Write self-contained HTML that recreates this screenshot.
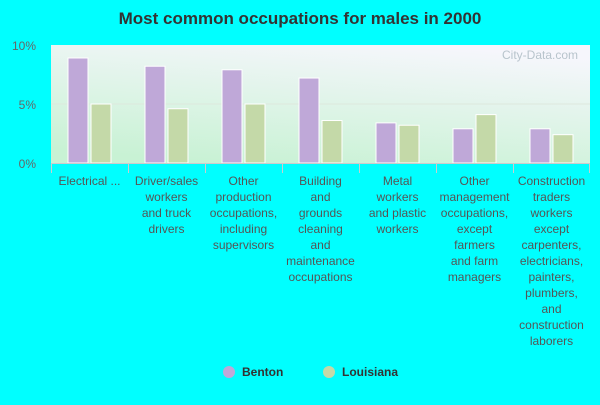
<!DOCTYPE html>
<html><head><meta charset="utf-8"><style>
body{margin:0;background:#00ffff;width:600px;height:400px;overflow:hidden;font-family:"Liberation Sans",sans-serif}
</style></head><body>
<svg width="600" height="400" xmlns="http://www.w3.org/2000/svg">
<defs>
<linearGradient id="bg" x1="0.3" y1="1" x2="0.7" y2="0">
<stop offset="0" stop-color="#c8f2d4"/><stop offset="1" stop-color="#f6f6fc"/>
</linearGradient>
</defs>
<text x="300" y="24" text-anchor="middle" font-size="17" font-weight="bold" fill="#333">Most common occupations for males in 2000</text>
<rect x="51" y="45" width="539" height="118" fill="url(#bg)"/>
<text x="578" y="59" text-anchor="end" font-size="12" fill="#b8c4cc">City-Data.com</text>
<g id="grid"></g><g id="bars"></g><g id="axis"></g>
<g>
<circle cx="229" cy="372" r="6" fill="#bfa8d8"/>
<text x="242" y="376" font-size="12" font-weight="bold" fill="#333">Benton</text>
<circle cx="329" cy="372" r="6" fill="#c4d9a8"/>
<text x="342" y="376" font-size="12" font-weight="bold" fill="#333">Louisiana</text>
</g>
</svg>
<script>
const categories=[["Electrical ..."],["Driver/sales","workers","and truck","drivers"],["Other","production","occupations,","including","supervisors"],["Building","and","grounds","cleaning","and","maintenance","occupations"],["Metal","workers","and plastic","workers"],["Other","management","occupations,","except","farmers","and farm","managers"],["Construction","traders","workers","except","carpenters,","electricians,","painters,","plumbers,","and","construction","laborers"]];
const benton=[8.9,8.2,7.9,7.2,3.4,2.9,2.9];
const louisiana=[5.0,4.6,5.0,3.6,3.2,4.1,2.4];
const ticks=[0,5,10];
const tickLabels=["0%","5%","10%"];
const NS="http://www.w3.org/2000/svg";
const x0=51,x1=590,yTop=45,yBot=163,maxV=10;
const gw=(x1-x0)/categories.length;
const y=v=>yBot-(v/maxV)*(yBot-yTop);
function mk(tag,attrs,parent){const e=document.createElementNS(NS,tag);for(const k in attrs)e.setAttribute(k,attrs[k]);parent.appendChild(e);return e;}
const grid=document.getElementById('grid'),bars=document.getElementById('bars'),axis=document.getElementById('axis');
ticks.forEach((t,i)=>{
  if(t>0&&t<maxV){const l=mk('line',{x1:x0,x2:x1,y1:y(t),y2:y(t),stroke:'#dde8dd'},grid);
  
  }
  const tx=mk('text',{x:36,y:y(t)+5,'text-anchor':'end','font-size':12,fill:'#666'},axis);
  tx.textContent=tickLabels[i];
  
  
});
const base=mk('line',{x1:x0,x2:x1,y1:yBot+0.5,y2:yBot+0.5,stroke:'#ccc'},axis);


categories.forEach((c,i)=>{
  const gx=x0+i*gw;
  const tk=mk('line',{x1:gx+0.5,x2:gx+0.5,y1:yBot,y2:yBot+10,stroke:'#ccc'},axis);
  
  
  const b=mk('rect',{x:gx+17,y:y(benton[i]),width:20,height:yBot-y(benton[i]),fill:'#bfa8d8',stroke:'#fff','stroke-width':1},bars);
  
  
  const l=mk('rect',{x:gx+40,y:y(louisiana[i]),width:20,height:yBot-y(louisiana[i]),fill:'#c4d9a8',stroke:'#fff','stroke-width':1},bars);
  
  
  c.forEach((line,j)=>{
    const t=mk('text',{x:gx+gw/2,y:185+j*16,'text-anchor':'middle','font-size':12,fill:'#555'},axis);
    t.textContent=line;
    
    
  });
});
const last=mk('line',{x1:x1-0.5,x2:x1-0.5,y1:yBot,y2:yBot+10,stroke:'#ccc'},axis);


</script>
</body></html>
